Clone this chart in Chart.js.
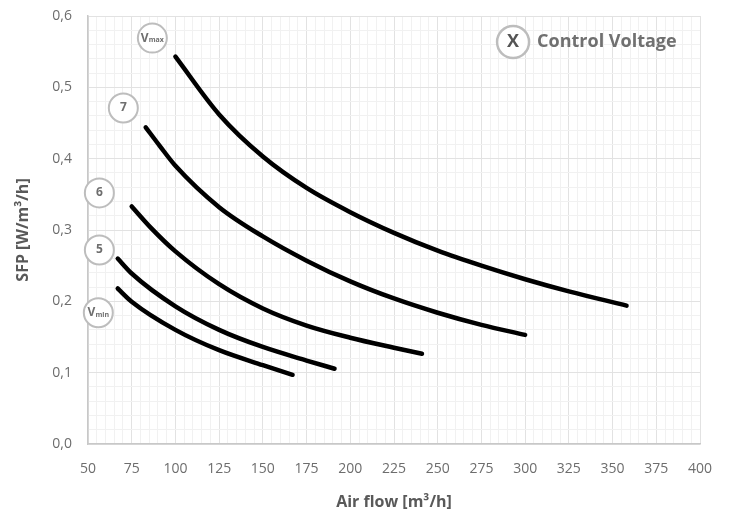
<!DOCTYPE html>
<html>
<head>
<meta charset="utf-8">
<script src="https://cdn.jsdelivr.net/npm/chart.js@4.4.0/dist/chart.umd.min.js"></script>
<style>
  html, body { margin: 0; padding: 0; background: #fff; }
  #wrap { width: 731px; height: 517px; }
</style>
</head>
<body>
<div id="wrap"><canvas id="sfpChart"></canvas></div>
<script>
// air flow [m3/h] / SFP [W/m3/h] for each control voltage
var flowVmax = [100, 125, 150, 175, 200, 225, 250, 275, 300, 325, 358];
var sfpVmax  = [0.543, 0.462, 0.403, 0.359, 0.325, 0.296, 0.271, 0.250, 0.231, 0.214, 0.194];
var flow7 = [83, 91, 100, 125, 150, 175, 200, 225, 250, 275, 300];
var sfp7  = [0.444, 0.418, 0.390, 0.332, 0.291, 0.257, 0.228, 0.204, 0.184, 0.167, 0.153];
var flow6 = [75, 86, 100, 125, 150, 175, 200, 225, 241];
var sfp6  = [0.333, 0.303, 0.270, 0.224, 0.190, 0.166, 0.149, 0.135, 0.1265];
var flow5 = [67, 75, 100, 125, 150, 175, 191];
var sfp5  = [0.260, 0.239, 0.193, 0.160, 0.136, 0.117, 0.1055];
var flowVmin = [67, 75, 100, 125, 150, 167];
var sfpVmin  = [0.218, 0.1995, 0.160, 0.1315, 0.1105, 0.097];

// circled curve labels: [main text, subscript, flow, sfp]
var curveLabels = [
  ['V', 'max', 86.8, 0.569],
  ['7', '', 70.2, 0.471],
  ['6', '', 56.5, 0.352],
  ['5', '', 56.5, 0.272],
  ['V', 'min', 55.9, 0.184]
];
var legendText = 'Control Voltage';
var legendAt = [293.1, 0.5636];

function pts(xs, ys) {
  return xs.map(function (x, i) { return { x: x, y: ys[i] }; });
}
function curve(label, xs, ys) {
  return {
    label: label,
    data: pts(xs, ys),
    showLine: true,
    borderColor: '#000',
    borderWidth: 4.5,
    borderCapStyle: 'round',
    pointRadius: 0,
    cubicInterpolationMode: 'monotone'
  };
}

var isMajorX = function (v) { return Math.abs(v % 25) < 1e-6; };
var isMajorY = function (v) { return Math.abs(v * 10 - Math.round(v * 10)) < 1e-6; };

var badgePlugin = {
  id: 'badges',
  afterDatasetsDraw: function (chart) {
    var ctx = chart.ctx, xs = chart.scales.x, ys = chart.scales.y;
    ctx.save();
    curveLabels.forEach(function (l) {
      var cx = xs.getPixelForValue(l[2]), cy = ys.getPixelForValue(l[3]);
      ctx.beginPath();
      ctx.arc(cx, cy, 14.5, 0, Math.PI * 2);
      ctx.fillStyle = '#fff';
      ctx.fill();
      ctx.lineWidth = 2;
      ctx.strokeStyle = '#bdbdbd';
      ctx.stroke();
      ctx.fillStyle = '#6e6e6e';
      ctx.textBaseline = 'middle';
      ctx.font = 'bold 12px "Open Sans"';
      var w1 = ctx.measureText(l[0]).width;
      ctx.font = 'bold 7px "Open Sans"';
      var w2 = l[1] ? ctx.measureText(l[1]).width : 0;
      var x0 = cx - (w1 + w2) / 2;
      ctx.textAlign = 'left';
      ctx.font = 'bold 12px "Open Sans"';
      ctx.fillText(l[0], x0, cy);
      if (l[1]) {
        ctx.font = 'bold 7px "Open Sans"';
        ctx.fillText(l[1], x0 + w1, cy + 2);
      }
    });
    // legend
    var lx = xs.getPixelForValue(legendAt[0]), ly = ys.getPixelForValue(legendAt[1]);
    ctx.beginPath();
    ctx.arc(lx, ly, 16, 0, Math.PI * 2);
    ctx.fillStyle = '#fff';
    ctx.fill();
    ctx.lineWidth = 2.5;
    ctx.strokeStyle = '#bdbdbd';
    ctx.stroke();
    ctx.fillStyle = '#555';
    ctx.textAlign = 'center';
    ctx.textBaseline = 'middle';
    ctx.font = 'bold 18px "Open Sans"';
    ctx.fillText('X', lx, ly);
    ctx.fillStyle = '#707070';
    ctx.textAlign = 'left';
    ctx.fillText(legendText, lx + 24, ly);
    ctx.restore();
  }
};

var ctx = document.getElementById('sfpChart').getContext('2d');
var myChart = new Chart(ctx, {
  type: 'scatter',
  data: {
    datasets: [
      curve('Vmax', flowVmax, sfpVmax),
      curve('7', flow7, sfp7),
      curve('6', flow6, sfp6),
      curve('5', flow5, sfp5),
      curve('Vmin', flowVmin, sfpVmin)
    ]
  },
  options: {
    responsive: true,
    maintainAspectRatio: false,
    animation: false,
    layout: { padding: { left: 0, right: 31, top: 16, bottom: 0 } },
    plugins: { legend: { display: false }, tooltip: { enabled: false } },
    scales: {
      x: {
        type: 'linear',
        min: 50, max: 400,
        afterFit: function (s) { s.height = 73; },
        border: { color: '#c8c8c8', width: 1.5 },
        grid: {
          tickLength: 15,
          tickColor: 'rgba(0,0,0,0)',
          color: function (c) { return isMajorX(c.tick.value) ? '#e2e2e2' : '#f1f1f1'; }
        },
        ticks: {
          stepSize: 5,
          maxTicksLimit: 100,
          autoSkip: false,
          maxRotation: 0,
          padding: 2,
          color: '#6d6d6d',
          font: { family: 'Open Sans', size: 14 },
          callback: function (v) { return isMajorX(v) ? String(v) : ''; }
        },
        title: {
          display: true,
          text: 'Air flow [m³/h]',
          color: '#595959',
          font: { family: 'Open Sans', size: 16, weight: 'bold' },
          padding: { top: 0, bottom: 5 }
        }
      },
      y: {
        min: 0, max: 0.6,
        afterFit: function (s) { s.width = 88; },
        border: { color: '#c8c8c8', width: 1.5 },
        grid: {
          tickLength: 14,
          tickColor: 'rgba(0,0,0,0)',
          color: function (c) { return isMajorY(c.tick.value) ? '#e2e2e2' : '#f1f1f1'; }
        },
        ticks: {
          stepSize: 0.02,
          maxTicksLimit: 100,
          autoSkip: false,
          padding: 2,
          color: '#6d6d6d',
          font: { family: 'Open Sans', size: 14 },
          callback: function (v) { return isMajorY(v) ? v.toFixed(1).replace('.', ',') : ''; }
        },
        title: {
          display: true,
          text: 'SFP [W/m³/h]',
          color: '#595959',
          font: { family: 'Open Sans', size: 16, weight: 'bold' },
          padding: { top: 14, bottom: 0 }
        }
      }
    }
  },
  plugins: [badgePlugin]
});
</script>
</body>
</html>
